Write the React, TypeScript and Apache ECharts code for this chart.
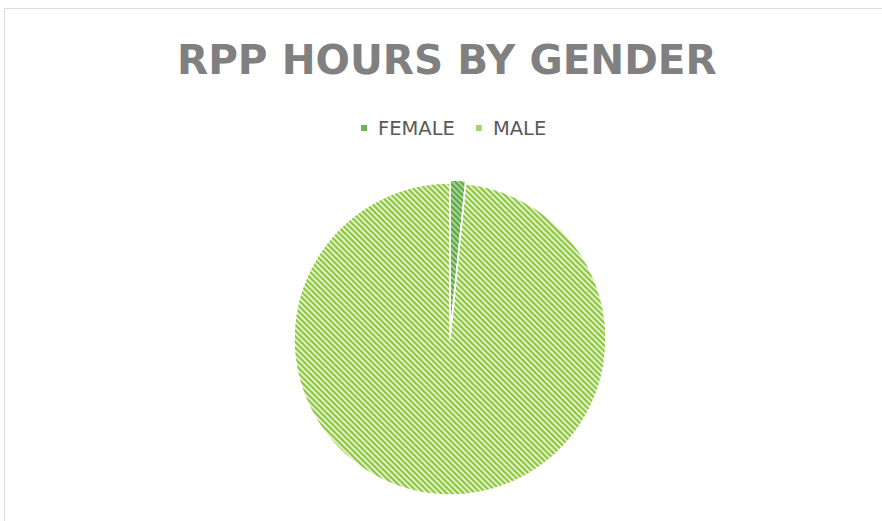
import React, { useEffect, useRef } from "react";
import * as echarts from "echarts";

const categories = ["FEMALE", "MALE"];
const values = [1.6, 98.4];
const baseColors = ["#a8d497", "#e0f0c8"];
const stripeColors = ["#5aa842", "#8cc63c"];
const legendColors = ["#6db554", "#a6d46a"];

export default function App() {
  const ref = useRef<HTMLDivElement>(null);
  useEffect(() => {
    if (!ref.current) return;
    const chart = echarts.init(ref.current, undefined, { renderer: "svg" });
    const data = categories.map((name, i) => ({
      name,
      value: values[i],
      selected: i === 0,
      itemStyle: {
        color: baseColors[i],
        decal: {
          symbol: "rect",
          symbolSize: 1,
          color: stripeColors[i],
          dashArrayX: [1, 0],
          dashArrayY: [2, 2],
          rotation: Math.PI / 4,
        },
      },
    }));
    chart.setOption({
      animation: false,
      backgroundColor: "#ffffff",
      graphic: [
        {
          type: "rect",
          shape: { x: 4.5, y: 8.5, width: 1000, height: 1000 },
          style: { fill: "none", stroke: "#d9d9d9", lineWidth: 1 },
          silent: true,
        },
      ],
      title: {
        text: "RPP HOURS BY GENDER",
        left: 177,
        top: 39,
        padding: 0,
        textStyle: {
          fontFamily: "DejaVu Sans",
          fontWeight: "bold",
          fontSize: 40.5,
          color: "#808080",
        },
      },
      legend: {
        data: categories.map((name, i) => ({
          name,
          itemStyle: { color: legendColors[i], decal: "none" },
        })),
        left: 359,
        top: 118,
        padding: 0,
        icon: "rect",
        itemWidth: 8,
        itemHeight: 8,
        itemGap: 19,
        selectedMode: false,
        textStyle: {
          fontFamily: "DejaVu Sans",
          fontSize: 19.5,
          color: "#595959",
          padding: [0, 0, 0, 5],
        },
      },
      series: [
        {
          type: "pie",
          center: [450, 339],
          radius: 156,
          startAngle: 90,
          clockwise: true,
          selectedMode: "single",
          selectedOffset: 3,
          label: { show: false },
          labelLine: { show: false },
          emphasis: { disabled: true },
          itemStyle: { borderColor: "#ffffff", borderWidth: 1.5 },
          data,
        },
      ],
    });
    return () => chart.dispose();
  }, []);
  return (
    <div
      ref={ref}
      style={{ position: "absolute", left: 0, top: 0, width: 882, height: 521 }}
    />
  );
}
